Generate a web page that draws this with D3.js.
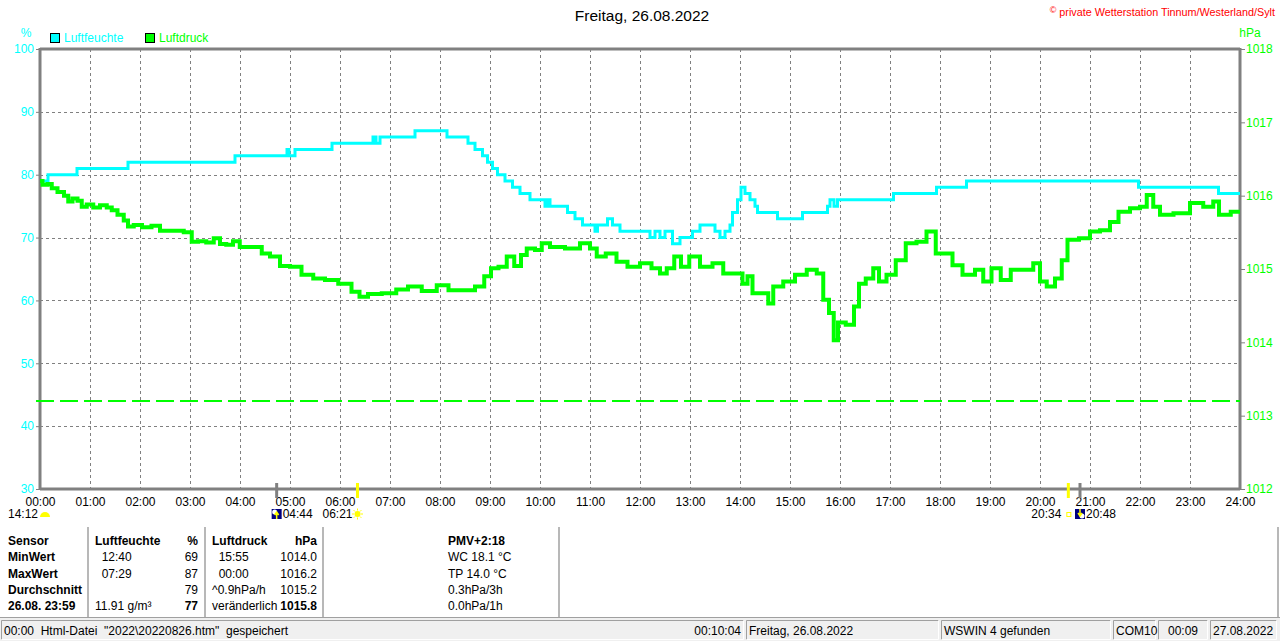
<!DOCTYPE html>
<html>
<head>
<meta charset="utf-8">
<script src="https://cdn.jsdelivr.net/npm/d3@7"></script>
<style>
  body { margin: 0; background: #fff; }
  svg { display: block; font-family: "Liberation Sans", Arial, sans-serif; }
</style>
</head>
<body>
<svg id="chart" width="1280" height="641"></svg>
<script>
// hour ticks and axis ticks
const hourTicks = d3.range(0, 25);
const humTicks = [30, 40, 50, 60, 70, 80, 90, 100];
const pressTicks = [1012, 1013, 1014, 1015, 1016, 1017, 1018];

// Luftfeuchte (%), step values: time in hours -> value from then on
const humTimes = [0.00, 0.16, 0.74, 1.76, 3.90, 4.94, 4.98, 5.10, 5.84, 6.66, 6.72, 6.80, 7.50, 8.14, 8.56,
  8.70, 8.85, 8.95, 9.05, 9.15, 9.30, 9.45, 9.60, 9.80, 10.10, 10.15, 10.20, 10.55, 10.70, 10.85,
  11.10, 11.15, 11.35, 11.45, 11.60, 12.20, 12.30, 12.40, 12.50, 12.65, 12.80, 13.05, 13.20, 13.50,
  13.60, 13.70, 13.80, 13.85, 13.95, 14.02, 14.10, 14.20, 14.30, 14.35, 14.75, 15.25, 15.75, 15.80,
  15.88, 15.95, 17.07, 17.93, 18.53, 21.97, 23.57, 24.00];
const humValues = [79, 80, 81, 82, 83, 84, 83, 84, 85, 86, 85, 86, 87, 86, 85,
  84, 83, 82, 81, 80, 79, 78, 77, 76, 75, 76, 75, 74, 73, 72,
  71, 72, 73, 72, 71, 70, 71, 70, 71, 69, 70, 71, 72, 71,
  70, 71, 72, 74, 76, 78, 77, 76, 75, 74, 73, 74, 75, 76,
  75, 76, 77, 78, 79, 78, 77, 77];

// Luftdruck (hPa)
const pressTimes = [0.00, 0.10, 0.20, 0.27, 0.43, 0.53, 0.60, 0.70, 0.80, 0.87, 1.00, 1.13, 1.27, 1.40, 1.47,
  1.63, 1.72, 1.80, 1.95, 2.13, 2.33, 2.47, 2.75, 3.00, 3.07, 3.25, 3.40, 3.55, 3.65, 3.80, 3.92,
  4.07, 4.40, 4.47, 4.73, 4.87, 5.13, 5.33, 5.60, 5.80, 6.13, 6.33, 6.45, 6.67, 7.00, 7.25, 7.47,
  7.80, 8.07, 8.27, 8.60, 8.80, 8.97, 9.07, 9.27, 9.40, 9.57, 9.67, 9.80, 10.00, 10.07, 10.33,
  10.67, 10.93, 11.07, 11.20, 11.43, 11.63, 11.87, 12.13, 12.33, 12.47, 12.60, 12.77, 12.87, 13.10,
  13.30, 13.60, 13.73, 14.00, 14.10, 14.20, 14.30, 14.53, 14.60, 14.73, 15.00, 15.20, 15.47, 15.60,
  15.73, 15.83, 15.92, 16.00, 16.23, 16.33, 16.43, 16.60, 16.73, 16.83, 17.03, 17.20, 17.43, 17.63,
  17.83, 18.00, 18.20, 18.30, 18.60, 18.80, 18.93, 19.13, 19.30, 19.53, 19.80, 19.93, 20.07, 20.20,
  20.40, 20.47, 20.63, 20.93, 21.07, 21.33, 21.47, 21.67, 21.93, 22.07, 22.20, 22.33, 22.47, 22.87,
  23.13, 23.40, 23.53, 23.63, 24.00];
const pressValues = [1016.20, 1016.15, 1016.16, 1016.10, 1016.05, 1016.00, 1015.92, 1015.96, 1015.93, 1015.85, 1015.88, 1015.84, 1015.87, 1015.84, 1015.80,
  1015.74, 1015.66, 1015.58, 1015.60, 1015.57, 1015.59, 1015.52, 1015.52, 1015.50, 1015.37, 1015.38, 1015.36, 1015.42, 1015.34, 1015.33, 1015.38,
  1015.30, 1015.30, 1015.21, 1015.17, 1015.04, 1015.03, 1014.92, 1014.87, 1014.85, 1014.80, 1014.69, 1014.62, 1014.66, 1014.67, 1014.72, 1014.76,
  1014.70, 1014.78, 1014.71, 1014.71, 1014.76, 1014.90, 1015.01, 1015.03, 1015.17, 1015.04, 1015.19, 1015.28, 1015.26, 1015.35, 1015.30,
  1015.28, 1015.35, 1015.28, 1015.17, 1015.21, 1015.10, 1015.03, 1015.08, 1015.01, 1014.94, 1015.01, 1015.17, 1015.03, 1015.17,
  1015.03, 1015.08, 1014.94, 1014.94, 1014.80, 1014.90, 1014.67, 1014.67, 1014.53, 1014.76, 1014.83, 1014.92, 1014.99, 1014.94,
  1014.58, 1014.40, 1014.03, 1014.27, 1014.24, 1014.49, 1014.80, 1014.87, 1015.01, 1014.83, 1014.92, 1015.12, 1015.35, 1015.37,
  1015.51, 1015.21, 1015.21, 1015.05, 1014.92, 1014.99, 1014.83, 1015.01, 1014.85, 1014.99, 1014.99, 1015.08, 1014.83, 1014.76,
  1014.87, 1015.12, 1015.40, 1015.42, 1015.51, 1015.53, 1015.64, 1015.78, 1015.83, 1015.85, 1016.01, 1015.85, 1015.74, 1015.76,
  1015.90, 1015.85, 1015.92, 1015.74, 1015.78];

const refPressure = 1013.2;

// sun / moon events (hours)
const moonRise = 4 + 44 / 60, sunRise = 6 + 21 / 60, sunSet = 20 + 34 / 60, moonSet = 20 + 48 / 60;

const tableRows = [
  ["Sensor", "Luftfeuchte", "%", "Luftdruck", "hPa", "PMV+2:18"],
  ["MinWert", "  12:40", "69", "  15:55", "1014.0", "WC 18.1 °C"],
  ["MaxWert", "  07:29", "87", "  00:00", "1016.2", "TP 14.0 °C"],
  ["Durchschnitt", "", "79", "^0.9hPa/h", "1015.2", "0.3hPa/3h"],
  ["26.08. 23:59", "11.91 g/m³", "77", "veränderlich", "1015.8", "0.0hPa/1h"]
];

const statusPanels = [
  { x0: 1, x1: 744, text: "00:00  Html-Datei  \"2022\\20220826.htm\"  gespeichert", right: "00:10:04" },
  { x0: 746, x1: 939, text: "Freitag, 26.08.2022" },
  { x0: 941, x1: 1111, text: "WSWIN 4 gefunden" },
  { x0: 1113, x1: 1156, text: "COM10" },
  { x0: 1158, x1: 1208, text: "00:09", center: true },
  { x0: 1210, x1: 1277, text: "27.08.2022" }
];

const CYAN = "#00ffff", GREEN = "#00ff00", GRID = "#808080";

const svg = d3.select("#chart");
const plotL = 40, plotR = 1240, plotT = 49, plotB = 489;

const x = d3.scaleLinear().domain([0, 24]).range([plotL, plotR]);
const yHum = d3.scaleLinear().domain([30, 100]).range([plotB, plotT]);
const yPress = d3.scaleLinear().domain([1012, 1018]).range([plotB, plotT]);

// title and copyright
svg.append("text").attr("x", 642).attr("y", 21).attr("text-anchor", "middle")
  .attr("font-size", 15.5).attr("fill", "#000").text("Freitag, 26.08.2022");
svg.append("text").attr("x", 1275).attr("y", 16).attr("text-anchor", "end")
  .attr("font-size", 10.8).attr("fill", "#ff0000")
  .text("private Wetterstation Tinnum/Westerland/Sylt");
svg.append("text").attr("x", 1053).attr("y", 13).attr("text-anchor", "middle")
  .attr("font-size", 9).attr("fill", "#ff0000").text("©");

// units + legend
svg.append("text").attr("x", 26).attr("y", 37).attr("text-anchor", "middle")
  .attr("font-size", 12).attr("fill", CYAN).text("%");
svg.append("text").attr("x", 1250).attr("y", 37).attr("text-anchor", "middle")
  .attr("font-size", 12).attr("fill", GREEN).text("hPa");

const legend = [{ label: "Luftfeuchte", color: CYAN, x: 50 }, { label: "Luftdruck", color: GREEN, x: 145 }];
legend.forEach(d => {
  svg.append("rect").attr("x", d.x + 0.5).attr("y", 33.5).attr("width", 9).attr("height", 9)
    .attr("fill", d.color).attr("stroke", "#000");
  svg.append("text").attr("x", d.x + 14).attr("y", 42).attr("font-size", 12)
    .attr("fill", d.color).text(d.label);
});

// grid
const grid = svg.append("g");
grid.selectAll(".vg").data(hourTicks.slice(1, -1)).join("line")
  .attr("x1", d => Math.round(x(d)) + 0.5).attr("x2", d => Math.round(x(d)) + 0.5)
  .attr("y1", plotT).attr("y2", plotB)
  .attr("stroke", GRID).attr("stroke-dasharray", "3,3");
grid.selectAll(".hg").data(humTicks.slice(1, -1)).join("line")
  .attr("x1", plotL).attr("x2", plotR)
  .attr("y1", d => Math.round(yHum(d)) + 0.5).attr("y2", d => Math.round(yHum(d)) + 0.5)
  .attr("stroke", GRID).attr("stroke-dasharray", "3,3");

// axes
const axL = svg.append("g").attr("transform", `translate(${plotL},0)`)
  .call(d3.axisLeft(yHum).tickValues(humTicks).tickSize(4).tickPadding(2));
axL.select(".domain").remove();
axL.selectAll("line").attr("stroke", GRID).attr("stroke-width", 1);
axL.selectAll("text").attr("fill", CYAN).attr("font-size", 12).attr("font-family", "Liberation Sans, Arial");

const axR = svg.append("g").attr("transform", `translate(${plotR},0)`)
  .call(d3.axisRight(yPress).tickValues(pressTicks).tickSize(5).tickPadding(1).tickFormat(d3.format("d")));
axR.select(".domain").remove();
axR.selectAll("line").attr("stroke", GRID).attr("stroke-width", 1);
axR.selectAll("text").attr("fill", GREEN).attr("font-size", 12).attr("font-family", "Liberation Sans, Arial");

const axB = svg.append("g").attr("transform", `translate(0,${plotB})`)
  .call(d3.axisBottom(x).tickValues(hourTicks).tickSize(0).tickPadding(8)
    .tickFormat(d => String(d).padStart(2, "0") + ":00"));
axB.select(".domain").remove();
axB.selectAll("text").attr("fill", "#000").attr("font-size", 12).attr("font-family", "Liberation Sans, Arial");

// frame
svg.append("line").attr("x1", plotL).attr("x2", plotR).attr("y1", plotT).attr("y2", plotT)
  .attr("stroke", GRID).attr("stroke-width", 3);
svg.append("line").attr("x1", plotL).attr("x2", plotR).attr("y1", plotB).attr("y2", plotB)
  .attr("stroke", GRID).attr("stroke-width", 3);
svg.append("line").attr("x1", plotL).attr("x2", plotL).attr("y1", plotT - 1).attr("y2", plotB + 1)
  .attr("stroke", GRID).attr("stroke-width", 3);
svg.append("line").attr("x1", plotR).attr("x2", plotR).attr("y1", plotT - 1).attr("y2", plotB + 1)
  .attr("stroke", GRID).attr("stroke-width", 3);

// reference pressure dashed line
svg.append("line").attr("x1", plotL - 4).attr("x2", plotR).attr("y1", yPress(refPressure)).attr("y2", yPress(refPressure))
  .attr("stroke", GREEN).attr("stroke-width", 2).attr("stroke-dasharray", "18,6");

// series
const humData = humTimes.map((t, i) => ({ t, v: humValues[i] }));
const pressData = pressTimes.map((t, i) => ({ t, v: pressValues[i] }));

svg.append("path").datum(humData)
  .attr("d", d3.line().x(d => x(d.t)).y(d => yHum(d.v)).curve(d3.curveStepAfter))
  .attr("fill", "none").attr("stroke", CYAN).attr("stroke-width", 3);

svg.append("path").datum(pressData)
  .attr("d", d3.line().x(d => x(d.t)).y(d => yPress(d.v)).curve(d3.curveStep))
  .attr("fill", "none").attr("stroke", GREEN).attr("stroke-width", 4);

// sun / moon markers
const marks = [
  { t: moonRise, color: GRID }, { t: sunRise, color: "#ffff00" },
  { t: sunSet, color: "#ffff00" }, { t: moonSet, color: GRID }
];
svg.selectAll(".mk").data(marks).join("line")
  .attr("x1", d => x(d.t)).attr("x2", d => x(d.t)).attr("y1", plotB - 6).attr("y2", plotB + 9)
  .attr("stroke", d => d.color).attr("stroke-width", 3);

const evY = 518;
function evText(tx, anchor, s) {
  svg.append("text").attr("x", tx).attr("y", evY).attr("text-anchor", anchor)
    .attr("font-size", 12).attr("fill", "#000").text(s);
}
function moonIcon(cx, up) {
  const g = svg.append("g").attr("transform", `translate(${cx - 5},509)`);
  g.append("rect").attr("width", 10).attr("height", 10).attr("fill", "#000080");
  g.append("circle").attr("cx", up ? 3 : 7).attr("cy", up ? 3 : 7).attr("r", 2.5).attr("fill", "#fff");
  g.append("path").attr("d", up ? "M5,10 V4 M3,6 L5,3 L7,6" : "M5,0 V6 M3,4 L5,7 L7,4")
    .attr("stroke", "#ffff00").attr("stroke-width", 1.5).attr("fill", "none");
}
// 14:12 half sun
evText(38, "end", "14:12");
svg.append("path").attr("d", d3.arc()({ innerRadius: 0, outerRadius: 5, startAngle: -Math.PI / 2, endAngle: Math.PI / 2 }))
  .attr("transform", "translate(45,517)").attr("fill", "#ffff00");
moonIcon(x(moonRise), true);
evText(x(moonRise) + 6, "start", "04:44");
evText(x(sunRise) - 5, "end", "06:21");
svg.append("circle").attr("cx", x(sunRise)).attr("cy", 514).attr("r", 3).attr("fill", "#ffff00");
svg.selectAll(".ray").data(d3.range(8)).join("line")
  .attr("x1", d => x(sunRise) + 3.5 * Math.cos(d * Math.PI / 4)).attr("y1", d => 514 + 3.5 * Math.sin(d * Math.PI / 4))
  .attr("x2", d => x(sunRise) + 5.5 * Math.cos(d * Math.PI / 4)).attr("y2", d => 514 + 5.5 * Math.sin(d * Math.PI / 4))
  .attr("stroke", "#ffff00").attr("stroke-width", 1);
evText(x(sunSet) - 7, "end", "20:34");
svg.append("rect").attr("x", x(sunSet) - 1.5).attr("y", 512.5).attr("width", 4).attr("height", 4)
  .attr("fill", "none").attr("stroke", "#ffff00");
moonIcon(x(moonSet), false);
evText(x(moonSet) + 6, "start", "20:48");

// table
const colX = [8, 95, 198, 212, 317, 448];
const colAnchor = ["start", "start", "end", "start", "end", "start"];
const rowY = [545, 561, 578, 594, 610];
tableRows.forEach((row, r) => {
  row.forEach((cell, c) => {
    const bold = r === 0 || c === 0 || (r === 4 && (c === 2 || c === 4));
    svg.append("text").attr("x", colX[c]).attr("y", rowY[r]).attr("text-anchor", colAnchor[c])
      .attr("font-size", 12).attr("font-weight", bold ? "bold" : "normal")
      .attr("fill", "#000").style("white-space", "pre").text(cell);
  });
});
[88, 205, 323, 559].forEach(sx => {
  svg.append("line").attr("x1", sx).attr("x2", sx).attr("y1", 527).attr("y2", 617)
    .attr("stroke", "#a0a0a0").attr("stroke-width", 1.5);
});
svg.append("line").attr("x1", 1278).attr("x2", 1278).attr("y1", 527).attr("y2", 617)
  .attr("stroke", "#a0a0a0").attr("stroke-width", 1.5);

// status bar
svg.append("rect").attr("x", 0).attr("y", 617).attr("width", 1280).attr("height", 24).attr("fill", "#f0f0f0");
svg.append("line").attr("x1", 0).attr("x2", 1280).attr("y1", 617.5).attr("y2", 617.5).attr("stroke", "#a0a0a0");
statusPanels.forEach(p => {
  svg.append("path").attr("d", `M${p.x0 + 0.5},639.5 V620.5 H${p.x1 - 0.5}`)
    .attr("stroke", "#a0a0a0").attr("fill", "none");
  svg.append("path").attr("d", `M${p.x0 + 0.5},639.5 H${p.x1 - 0.5} V620.5`)
    .attr("stroke", "#ffffff").attr("fill", "none");
  svg.append("text").attr("x", p.center ? (p.x0 + p.x1) / 2 : p.x0 + 3).attr("y", 635)
    .attr("text-anchor", p.center ? "middle" : "start")
    .attr("font-size", 12).attr("fill", "#000").style("white-space", "pre").text(p.text);
  if (p.right) {
    svg.append("text").attr("x", p.x1 - 3).attr("y", 635).attr("text-anchor", "end")
      .attr("font-size", 12).attr("fill", "#000").text(p.right);
  }
});
</script>
</body>
</html>
